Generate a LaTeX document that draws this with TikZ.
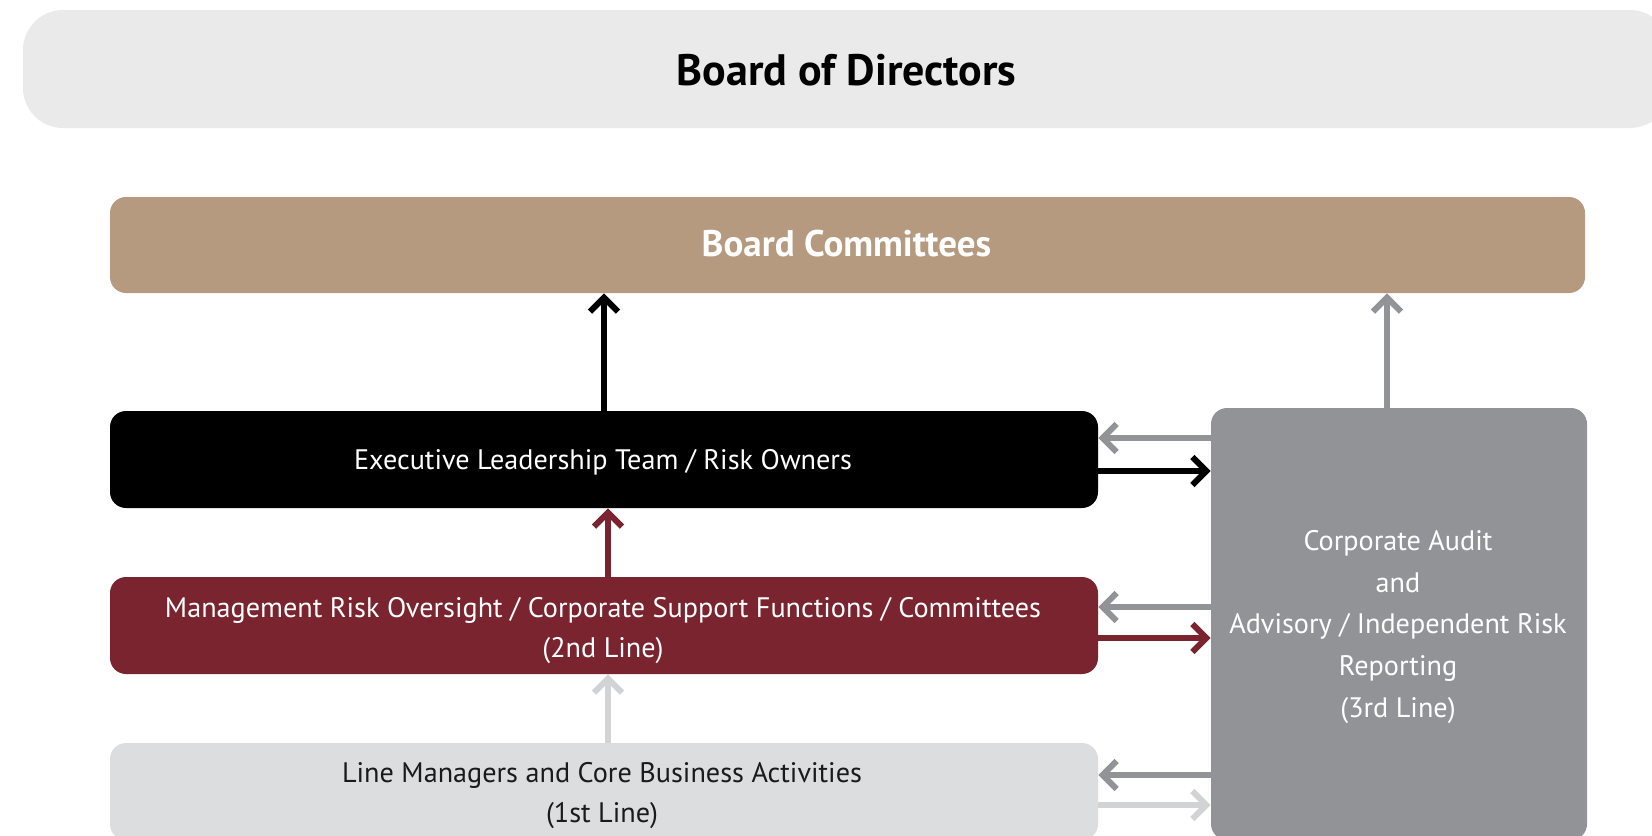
\documentclass[tikz,border=0pt]{standalone}
\usepackage{fontspec}
\setmainfont{PT Sans}
\usetikzlibrary{arrows.meta,calc}
\definecolor{bodbg}{HTML}{EAEAEA}
\definecolor{bcbg}{HTML}{B59A80}
\definecolor{mrobg}{HTML}{7A2430}
\definecolor{lmbg}{HTML}{DCDDDF}
\definecolor{audbg}{HTML}{929396}
\definecolor{lightarr}{HTML}{D2D3D5}
\definecolor{lmtext}{HTML}{1A1A1A}
\tikzset{
  box/.style={rectangle, inner sep=0pt, anchor=center},
  lbl/.style={inner sep=0pt, anchor=base, font=\fontsize{14.1pt}{17pt}\selectfont},
  arr/.style={line width=3pt, -{Straight Barb[length=7pt,width=14pt,line width=3pt]}},
}
\begin{document}
\begin{tikzpicture}[x=0.5pt,y=-0.5pt]
\useasboundingbox (0,0) rectangle (1652,835);
% boxes
\node[box, fill=bodbg, rounded corners=20pt, minimum width=823.5pt, minimum height=59pt] (bod) at (846.5,69) {};
\node[box, fill=bcbg, rounded corners=8pt, minimum width=737.5pt, minimum height=48pt] (bc) at (847.5,245) {};
\node[box, fill=black, rounded corners=8pt, minimum width=494pt, minimum height=48.5pt] (elt) at (604,459.5) {};
\node[box, fill=mrobg, rounded corners=8pt, minimum width=494pt, minimum height=48.5pt] (mro) at (604,625.5) {};
\node[box, fill=lmbg, rounded corners=8pt, minimum width=494pt, minimum height=48.5pt] (lm) at (604,791.5) {};
\node[box, fill=audbg, rounded corners=8pt, minimum width=188pt, minimum height=216pt] (aud) at (1399,624) {};
% texts
\node[lbl, font=\fontsize{22pt}{26pt}\selectfont\bfseries] (bodt) at (846.5,85) {Board of Directors};
\node[lbl, text=white, font=\fontsize{18.5pt}{22pt}\selectfont\bfseries] (bct) at (846.5,256.5) {Board Committees};
\node[lbl, text=white] (eltt) at (603,469) {Executive Leadership Team / Risk Owners};
\node[lbl, text=white] (mrot1) at (603,617) {Management Risk Oversight / Corporate Support Functions / Committees};
\node[lbl, text=white] (mrot2) at (603,657) {(2nd Line)};
\node[lbl, text=lmtext] (lmt1) at (602,782) {Line Managers and Core Business Activities};
\node[lbl, text=lmtext] (lmt2) at (602,822) {(1st Line)};
\node[lbl, text=white] (audt1) at (1398,550) {Corporate Audit};
\node[lbl, text=white] (audt2) at (1398,592) {and};
\node[lbl, text=white] (audt3) at (1398,633) {Advisory / Independent Risk};
\node[lbl, text=white] (audt4) at (1398,675) {Reporting};
\node[lbl, text=white] (audt5) at (1398,717) {(3rd Line)};
% helper coordinates
\coordinate (y1) at (0,438);
\coordinate (y2) at (0,471);
\coordinate (y3) at (0,607);
\coordinate (y4) at (0,638);
\coordinate (y5) at (0,775);
\coordinate (y6) at (0,805);
\coordinate (xa) at (608,0);
\coordinate (xb) at (1387,0);
% vertical arrows
\draw[arr, black] (elt.north) -- (elt.north |- bc.south);
\draw[arr, mrobg] (xa |- mro.north) -- (xa |- elt.south);
\draw[arr, lightarr] (xa |- lm.north) -- (xa |- mro.south);
\draw[arr, audbg] (xb |- aud.north) -- (xb |- bc.south);
% horizontal arrows
\draw[arr, audbg] (aud.west |- y1) -- (elt.east |- y1);
\draw[arr, black] (elt.east |- y2) -- (aud.west |- y2);
\draw[arr, audbg] (aud.west |- y3) -- (mro.east |- y3);
\draw[arr, mrobg] (mro.east |- y4) -- (aud.west |- y4);
\draw[arr, audbg] (aud.west |- y5) -- (lm.east |- y5);
\draw[arr, lightarr] (lm.east |- y6) -- (aud.west |- y6);
\end{tikzpicture}
\end{document}
